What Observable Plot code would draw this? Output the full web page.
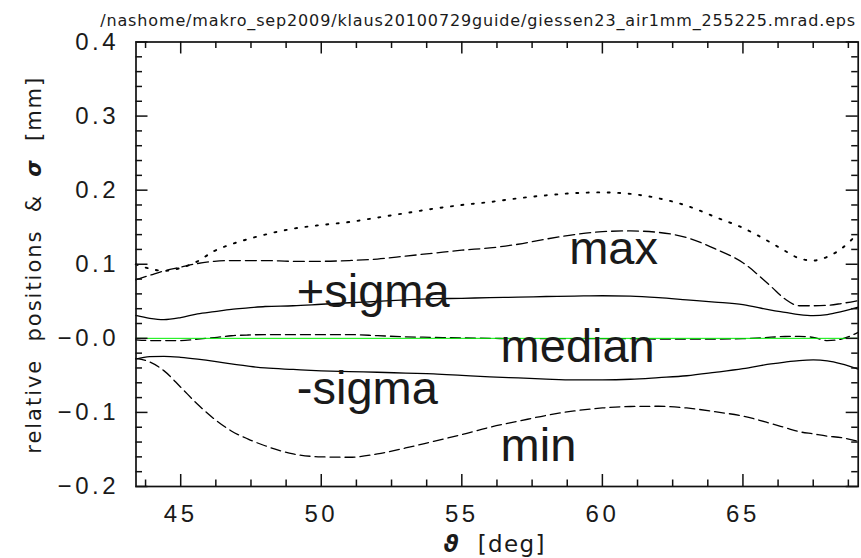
<!DOCTYPE html>
<html>
<head>
<meta charset="utf-8">
<script src="https://cdn.jsdelivr.net/npm/d3@7"></script>
<script src="https://cdn.jsdelivr.net/npm/@observablehq/plot@0.6"></script>
<style>
  html, body { margin: 0; padding: 0; background: #fff; }
  #wrap { position: relative; width: 861px; height: 558px; }
  #chart, #frameLayer { position: absolute; left: 0; top: 0; }
  #frameLayer svg { background: transparent !important; }
  #chart svg g[aria-label="x-axis tick label"] text,
  #chart svg g[aria-label="y-axis tick label"] text { letter-spacing: 3.5px; }
</style>
</head>
<body>
<div id="wrap"><div id="chart"></div><div id="frameLayer"></div></div>
<script>
// ---- data ----
const theta = [43.4, 43.9, 44.4, 45, 45.6, 46.2, 46.8, 47.4, 48, 49, 50, 51, 52, 53, 54, 55, 56, 57, 58, 59, 60, 61, 62, 63, 64, 65, 66, 66.5, 67, 67.5, 68, 68.5, 69.1];

const dottedVals = [0.100, 0.094, 0.091, 0.095, 0.104, 0.118, 0.127, 0.134, 0.140, 0.148, 0.153, 0.157, 0.163, 0.169, 0.175, 0.180, 0.184, 0.189, 0.193, 0.196, 0.197, 0.195, 0.189, 0.179, 0.164, 0.149, 0.129, 0.118, 0.108, 0.105, 0.110, 0.121, 0.142];

const maxVals = [0.079, 0.085, 0.091, 0.096, 0.101, 0.104, 0.105, 0.105, 0.105, 0.104, 0.104, 0.105, 0.107, 0.111, 0.115, 0.119, 0.122, 0.127, 0.134, 0.140, 0.144, 0.145, 0.143, 0.136, 0.121, 0.102, 0.070, 0.053, 0.044, 0.044, 0.0445, 0.047, 0.051];

const plusSigmaVals = [0.031, 0.027, 0.0252, 0.028, 0.033, 0.036, 0.039, 0.041, 0.043, 0.044, 0.046, 0.048, 0.050, 0.052, 0.0535, 0.054, 0.055, 0.0555, 0.0565, 0.057, 0.0575, 0.057, 0.055, 0.052, 0.049, 0.0455, 0.038, 0.035, 0.032, 0.0306, 0.032, 0.036, 0.042];

const medianVals = [-0.002, -0.003, -0.003, -0.003, -0.001, 0.001, 0.0035, 0.0045, 0.005, 0.005, 0.005, 0.005, 0.0036, 0.002, 0.0013, 0.0005, 0, -0.0005, -0.0005, -0.0005, -0.0005, -0.0005, -0.001, -0.001, -0.001, -0.0005, 0.0015, 0.0025, 0.0027, 0.0013, -0.003, -0.001, 0.008];

const minusSigmaVals = [-0.028, -0.0247, -0.0243, -0.0256, -0.028, -0.031, -0.0346, -0.0375, -0.040, -0.042, -0.0438, -0.045, -0.0458, -0.047, -0.048, -0.050, -0.052, -0.0535, -0.055, -0.056, -0.056, -0.0552, -0.053, -0.0505, -0.046, -0.041, -0.0345, -0.032, -0.030, -0.0292, -0.0305, -0.0345, -0.0415];

const minVals = [-0.027, -0.032, -0.0436, -0.066, -0.089, -0.109, -0.125, -0.136, -0.145, -0.156, -0.160, -0.1605, -0.156, -0.148, -0.139, -0.130, -0.120, -0.112, -0.104, -0.098, -0.094, -0.092, -0.0917, -0.094, -0.099, -0.105, -0.115, -0.1205, -0.126, -0.129, -0.132, -0.134, -0.139];

const zeroLine = [0];

// annotations
const labelText = ["max", "+sigma", "median", "-sigma", "min"];
const labelX = [58.82, 49.13, 56.38, 49.13, 56.38];
const labelY = [0.1007, 0.0427, -0.0324, -0.0880, -0.1656];

// axes
const xDomain = [43.41, 69.10];
const yDomain = [-0.2, 0.4];
const xMajor = [45, 50, 55, 60, 65];
const xTickLabels = ["45", "50", "55", "60", "65"];
const xMinor = [43.75, 46.25, 47.5, 48.75, 51.25, 52.5, 53.75, 56.25, 57.5, 58.75, 61.25, 62.5, 63.75, 66.25, 67.5, 68.75];
const yMajor = [-0.2, -0.1, 0, 0.1, 0.2, 0.3, 0.4];
const yTickLabels = ["\u22120.2", "\u22120.1", "\u22120.0", "0.1", "0.2", "0.3", "0.4"];
const yMinor = [-0.18, -0.16, -0.14, -0.12, -0.08, -0.06, -0.04, -0.02, 0.02, 0.04, 0.06, 0.08, 0.12, 0.14, 0.16, 0.18, 0.22, 0.24, 0.26, 0.28, 0.32, 0.34, 0.36, 0.38];

const titleText = "/nashome/makro_sep2009/klaus20100729guide/giessen23_air1mm_255225.mrad.eps";
const yLabelText = "relative  positions  &  \u03c3  [mm]";
const xLabelText = "\u03d1  [deg]";

// ---- layout ----
const W = 861, H = 558;
const mL = 135.5, mR = 3.3, mT = 41.5, mB = 72;
const frameW = W - mL - mR, frameH = H - mT - mB;
const ink = "#1a1a1a";
const sansFont = "Liberation Sans, Arial, sans-serif";
const labelFont = "DejaVu Sans, sans-serif";
const lineW = 1.3;
const majorLen = 12;
const minorLen = 6.5;
const tickStyle = { stroke: "#111", strokeWidth: 1.5 };
const common = { width: W, height: H, marginLeft: mL, marginRight: mR, marginTop: mT, marginBottom: mB };

// main layer: curves, annotations, labels
const chart = Plot.plot({
  ...common,
  x: { domain: xDomain },
  y: { domain: yDomain },
  marks: [
    Plot.line(theta, { x: theta, y: dottedVals, stroke: "#000", strokeWidth: 1.9, strokeDasharray: "2,8.5", curve: "monotone-x" }),
    Plot.line(theta, { x: theta, y: maxVals, stroke: "#000", strokeWidth: lineW, strokeDasharray: "11,5", curve: "monotone-x" }),
    Plot.line(theta, { x: theta, y: plusSigmaVals, stroke: "#000", strokeWidth: lineW, curve: "monotone-x" }),
    Plot.line(theta, { x: theta, y: medianVals, stroke: "#000", strokeWidth: lineW, strokeDasharray: "10,5", curve: "monotone-x" }),
    Plot.line(theta, { x: theta, y: minusSigmaVals, stroke: "#000", strokeWidth: lineW, curve: "monotone-x" }),
    Plot.line(theta, { x: theta, y: minVals, stroke: "#000", strokeWidth: lineW, strokeDasharray: "10,5", curve: "monotone-x" }),
    Plot.ruleY(zeroLine, { stroke: "#00ee00", strokeWidth: 1 }),

    Plot.text(labelText, { x: labelX, y: labelY, text: labelText, textAnchor: "start", lineAnchor: "bottom",
      fontFamily: sansFont, fontSize: 47, fill: ink }),

    Plot.axisX(xMajor, { anchor: "bottom", tickSize: 0, tickPadding: 18, tickFormat: (d, i) => xTickLabels[i],
      label: null, fill: ink, fontFamily: sansFont, fontSize: 24 }),
    Plot.axisY(yMajor, { anchor: "left", tickSize: 0, tickPadding: 17, tickFormat: (d, i) => yTickLabels[i],
      label: null, fill: ink, fontFamily: sansFont, fontSize: 24 }),

    Plot.text([titleText], { text: d => d, frameAnchor: "top-right", textAnchor: "end", lineAnchor: "bottom",
      dx: -3, dy: -16.5, fontFamily: labelFont, fontSize: 16, fill: ink }),
    Plot.text([yLabelText], { text: d => d, frameAnchor: "left", textAnchor: "middle", lineAnchor: "bottom",
      rotate: -90, dx: -95.5, dy: 1.5, fontFamily: labelFont, fontSize: 21, fill: ink }),
    Plot.text([xLabelText], { text: d => d, frameAnchor: "bottom", textAnchor: "middle", lineAnchor: "bottom",
      dx: -3, dy: 65, fontFamily: labelFont, fontSize: 23, fill: ink })
  ]
});
document.getElementById("chart").appendChild(chart);

// frame layer: box and inward ticks on all four sides, same scales
const frameLayer = Plot.plot({
  ...common,
  x: { domain: xDomain, axis: null },
  y: { domain: yDomain, axis: null },
  marks: [
    Plot.tickX(xMajor, { x: d => d, insetTop: frameH - majorLen, ...tickStyle }),
    Plot.tickX(xMinor, { x: d => d, insetTop: frameH - minorLen, ...tickStyle }),
    Plot.tickX(xMajor, { x: d => d, insetBottom: frameH - majorLen, ...tickStyle }),
    Plot.tickX(xMinor, { x: d => d, insetBottom: frameH - minorLen, ...tickStyle }),
    Plot.tickY(yMajor, { y: d => d, insetRight: frameW - majorLen, ...tickStyle }),
    Plot.tickY(yMinor, { y: d => d, insetRight: frameW - minorLen, ...tickStyle }),
    Plot.tickY(yMajor, { y: d => d, insetLeft: frameW - majorLen, ...tickStyle }),
    Plot.tickY(yMinor, { y: d => d, insetLeft: frameW - minorLen, ...tickStyle }),
    Plot.frame({ stroke: "#111", strokeWidth: 1.7 })
  ]
});
document.getElementById("frameLayer").appendChild(frameLayer);

// typographic touches: stretched spacing and bold-italic Greek letters
d3.select(chart).selectAll("text").each(function () {
  const t = this.textContent;
  const sel = d3.select(this);
  if (t === titleText) {
    sel.attr("textLength", 755).attr("lengthAdjust", "spacing");
  } else if (t === yLabelText) {
    sel.attr("textLength", 376).attr("lengthAdjust", "spacing");
    sel.html('relative  positions  &amp;  <tspan font-weight="bold" font-style="italic">\u03c3</tspan>  [mm]');
  } else if (t === xLabelText) {
    sel.attr("textLength", 101).attr("lengthAdjust", "spacing");
    sel.html('<tspan font-weight="bold" font-style="italic">\u03d1</tspan>  [deg]');
  }
});
</script>
</body>
</html>
